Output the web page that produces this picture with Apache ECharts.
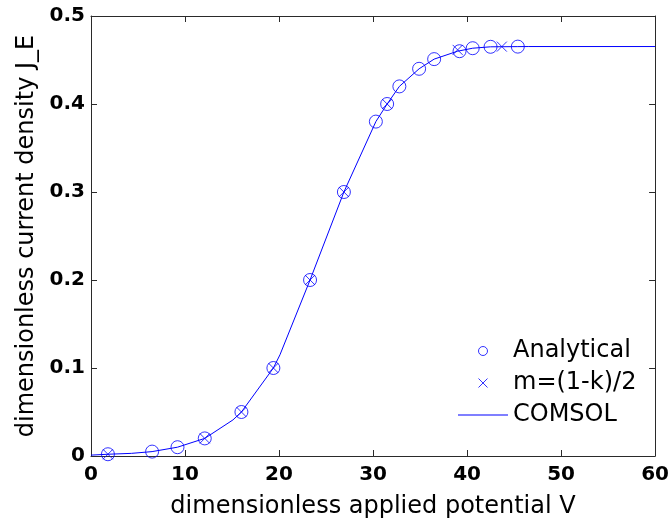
<!DOCTYPE html>
<html>
<head>
<meta charset="utf-8">
<script src="https://cdn.jsdelivr.net/npm/echarts@6/dist/echarts.min.js"></script>
<style>
  html, body { margin: 0; padding: 0; background: #fff; }
  #chart { width: 672px; height: 524px; }
</style>
</head>
<body>
<div id="chart"></div>
<script>
// Analytical solution (circles)
const analyticalV = [1.8, 6.5, 9.2, 12.1, 16.0, 19.4, 23.3, 26.9, 30.3, 31.5, 32.8, 34.9, 36.5, 39.2, 40.6, 42.5, 45.4];
const analyticalJ = [0.002, 0.005, 0.010, 0.020, 0.050, 0.100, 0.200, 0.300, 0.380, 0.400, 0.420, 0.440, 0.451, 0.460, 0.4634, 0.4650, 0.4652];

// m=(1-k)/2 approximation (crosses)
const approxV = [1.8, 12.1, 16.0, 19.4, 23.3, 26.9, 31.5, 39.0, 43.7];
const approxJ = [0.002, 0.020, 0.050, 0.100, 0.200, 0.300, 0.400, 0.4615, 0.4652];

// COMSOL simulation (line)
const comsolV = [0, 1.8, 4.3, 6.5, 9.2, 12.1, 15.1, 16.0, 19.4, 20.1, 23.3, 26.9, 30.3, 31.5, 32.8, 34.9, 36.5, 39.0, 40.6, 42.5, 45.4, 46.5, 60];
const comsolJ = [0.001, 0.002, 0.003, 0.005, 0.010, 0.020, 0.041, 0.050, 0.100, 0.115, 0.200, 0.300, 0.380, 0.400, 0.420, 0.440, 0.451, 0.460, 0.4634, 0.4650, 0.4652, 0.4653, 0.4653];

const xTicks = { min: 0, max: 60, interval: 10 };
const yTicks = { min: 0, max: 0.5, interval: 0.1 };

const zip = (a, b) => a.map((v, i) => [v, b[i]]);

const BLUE = '#0000ff';
const FRAME = '#2a2a2a';
const CROSS = 'path://M0,0L10,10M10,0L0,10';
// thin bar used as the line swatch in the legend
const LINE_SWATCH = 'path://M0,0L50,0L50,1L0,1Z';
const FONT = 'DejaVu Sans';
const HOLLOW = { color: 'rgba(0,0,0,0)', borderColor: BLUE, borderWidth: 1 };

const frameAxis = (extra) => Object.assign({
  axisLine: { show: true, onZero: false, lineStyle: { color: FRAME, width: 1 } },
  axisTick: { show: true, inside: true, length: 6, lineStyle: { color: FRAME, width: 1 } },
  splitLine: { show: false },
}, extra);

const chart = echarts.init(document.getElementById('chart'), null, { renderer: 'canvas' });
chart.setOption({
  animation: false,
  backgroundColor: '#ffffff',
  grid: { left: 91, top: 16, right: 16, bottom: 66, containLabel: false },
  xAxis: [
    frameAxis(Object.assign({
      type: 'value', position: 'bottom',
      name: 'dimensionless applied potential V',
      nameLocation: 'middle', nameGap: 39,
      nameTextStyle: { fontFamily: FONT, fontSize: 24, color: '#000' },
      axisLabel: { margin: 9, fontFamily: FONT, fontWeight: 'bold', fontSize: 20, color: '#000' }
    }, xTicks)),
    frameAxis(Object.assign({ type: 'value', position: 'top', axisLabel: { show: false } }, xTicks))
  ],
  yAxis: [
    frameAxis(Object.assign({
      type: 'value', position: 'left',
      name: 'dimensionless current density J_E',
      nameLocation: 'middle', nameGap: 52,
      nameTextStyle: { fontFamily: FONT, fontSize: 24, color: '#000' },
      axisLabel: { margin: 6, fontFamily: FONT, fontWeight: 'bold', fontSize: 20, color: '#000',
        formatter: (v) => (v === 0 ? '0' : v.toFixed(1)) }
    }, yTicks)),
    frameAxis(Object.assign({ type: 'value', position: 'right', axisLabel: { show: false } }, yTicks))
  ],
  legend: {
    orient: 'vertical',
    left: 458, top: 339, padding: 0,
    itemWidth: 50, itemHeight: 9, itemGap: 8,
    textStyle: { fontFamily: FONT, fontSize: 24, color: '#000' },
    data: [
      { name: 'Analytical', icon: 'circle', itemStyle: HOLLOW },
      { name: 'm=(1-k)/2', icon: CROSS, itemStyle: HOLLOW },
      { name: 'COMSOL', icon: LINE_SWATCH, itemStyle: { color: BLUE, borderWidth: 0 } }
    ]
  },
  series: [
    {
      name: 'COMSOL', type: 'line', data: zip(comsolV, comsolJ),
      symbol: 'none', lineStyle: { color: BLUE, width: 1 }, itemStyle: { color: BLUE },
      z: 2
    },
    {
      name: 'Analytical', type: 'scatter', data: zip(analyticalV, analyticalJ),
      symbol: 'circle', symbolSize: 13,
      itemStyle: HOLLOW,
      z: 3
    },
    {
      name: 'm=(1-k)/2', type: 'scatter', data: zip(approxV, approxJ),
      symbol: CROSS, symbolSize: 10,
      itemStyle: HOLLOW,
      z: 4
    }
  ]
});
</script>
</body>
</html>
